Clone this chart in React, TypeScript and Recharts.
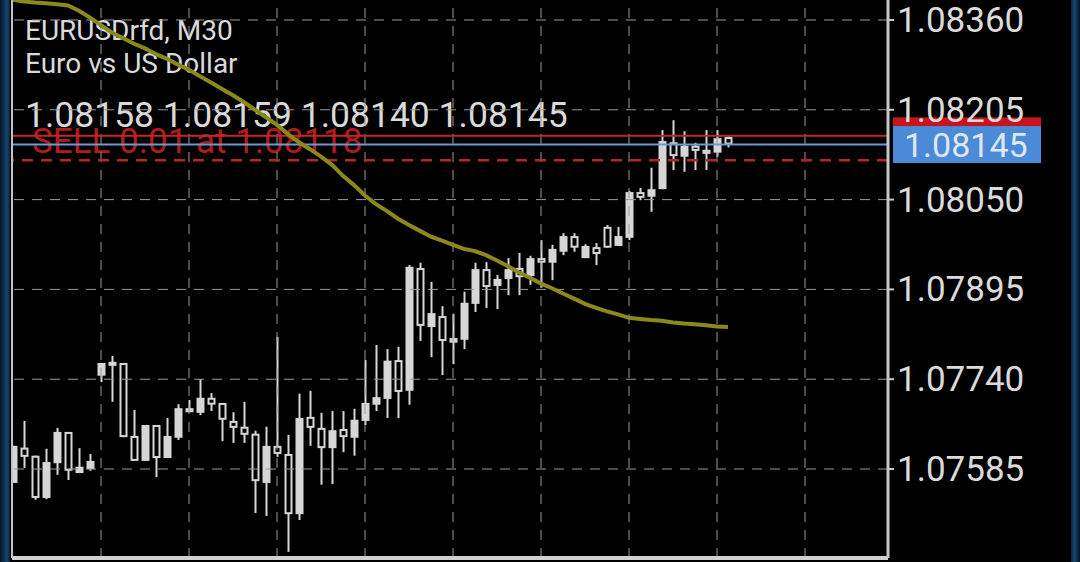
import {
  Bar,
  ComposedChart,
  Line,
  ReferenceLine,
  XAxis,
  YAxis,
} from "recharts";

const symbolTitle = "EURUSDrfd, M30";
const symbolName = "Euro vs US Dollar";
const sellLabel = "SELL 0.01 at 1.08118";

const opens = [
  1.07561, 1.07622, 1.07608, 1.07535, 1.07595, 1.07649, 1.07578, 1.07585, 1.07746, 1.07763,
  1.07768, 1.07642, 1.07599, 1.07661, 1.07604, 1.07639, 1.0769, 1.07682, 1.07708, 1.07699,
  1.07668, 1.07658, 1.07646, 1.07561, 1.07625, 1.07611, 1.07507, 1.07675, 1.07656, 1.07621,
  1.07654, 1.07639, 1.07668, 1.07696, 1.07706, 1.07773, 1.0772, 1.07932, 1.0783, 1.07849,
  1.07803, 1.07808, 1.0787, 1.0793, 1.07901, 1.07913, 1.07932, 1.07918, 1.07949, 1.07941,
  1.0796, 1.07987, 1.07949, 1.07968, 1.08003, 1.0797, 1.07984, 1.08063, 1.08055, 1.08068,
  1.08149, 1.08124, 1.08143, 1.08136, 1.08131, 1.08158,
];
const highs = [
  1.07625, 1.07668, 1.07608, 1.0762, 1.07656, 1.07649, 1.07621, 1.07611, 1.07768, 1.0778,
  1.07768, 1.07687, 1.07661, 1.07661, 1.07673, 1.07697, 1.07704, 1.0774, 1.07716, 1.07699,
  1.07683, 1.07701, 1.07651, 1.07658, 1.07813, 1.07644, 1.07715, 1.0772, 1.07682, 1.07685,
  1.07685, 1.07689, 1.07773, 1.07799, 1.07792, 1.07796, 1.07937, 1.07941, 1.07908, 1.07866,
  1.07853, 1.07891, 1.07941, 1.07942, 1.0792, 1.07949, 1.07958, 1.07953, 1.0798, 1.07972,
  1.07992, 1.07992, 1.07973, 1.07975, 1.08006, 1.08003, 1.08065, 1.0807, 1.08105, 1.0817,
  1.08187, 1.08168, 1.08148, 1.0817, 1.0817, 1.08159,
];
const lows = [
  1.07561, 1.07587, 1.07532, 1.07533, 1.07575, 1.07566, 1.07578, 1.07582, 1.07735, 1.07701,
  1.0764, 1.07599, 1.07599, 1.07571, 1.07604, 1.07635, 1.07683, 1.07678, 1.07685, 1.07633,
  1.0763, 1.0763, 1.07509, 1.07504, 1.07606, 1.07442, 1.07497, 1.07625, 1.07558, 1.07559,
  1.07614, 1.07608, 1.07661, 1.07685, 1.07673, 1.07673, 1.07696, 1.07806, 1.07778, 1.07747,
  1.07766, 1.07792, 1.07856, 1.07863, 1.07861, 1.07885, 1.07885, 1.07903, 1.07898, 1.07911,
  1.07954, 1.0796, 1.07949, 1.07937, 1.07967, 1.0797, 1.0798, 1.08049, 1.08029, 1.08068,
  1.08101, 1.08098, 1.08101, 1.08101, 1.08124, 1.0814,
];
const closes = [
  1.07625, 1.07606, 1.07535, 1.07597, 1.07649, 1.07582, 1.07589, 1.07599, 1.07768, 1.0777,
  1.0764, 1.07599, 1.07661, 1.07604, 1.07642, 1.0769, 1.07683, 1.07708, 1.07696, 1.0767,
  1.07656, 1.07644, 1.07564, 1.07625, 1.07611, 1.07507, 1.07673, 1.07656, 1.07621, 1.07652,
  1.0764, 1.0767, 1.07699, 1.07709, 1.07772, 1.07718, 1.07934, 1.07832, 1.07854, 1.07806,
  1.07811, 1.07872, 1.0793, 1.07899, 1.07913, 1.0793, 1.07916, 1.07949, 1.07941, 1.07965,
  1.07987, 1.07967, 1.0797, 1.07956, 1.07967, 1.07987, 1.08063, 1.08053, 1.08068, 1.08151,
  1.08125, 1.08143, 1.08134, 1.08129, 1.08156, 1.08145,
];
// moving average drawn in olive
const maValues = [
  1.08395, 1.08392, 1.0839, 1.08389, 1.08387, 1.08385, 1.08376, 1.08364, 1.08351, 1.08338,
  1.08329, 1.08319, 1.08311, 1.08301, 1.08293, 1.08283, 1.08274, 1.08263, 1.08252, 1.08241,
  1.0823, 1.08218, 1.08205, 1.08192, 1.08179, 1.08163, 1.08149, 1.08137, 1.08124, 1.0811,
  1.08091, 1.08075, 1.08057, 1.08042, 1.0803, 1.08017, 1.08006, 1.07996, 1.07986, 1.07979,
  1.07972, 1.07965, 1.07961, 1.07954, 1.07945, 1.07935, 1.07924, 1.07915, 1.07905, 1.07897,
  1.07888, 1.07879, 1.0787, 1.07863, 1.07857, 1.07852, 1.07846, 1.07844, 1.07842, 1.07841,
  1.07838, 1.07836, 1.07835, 1.07833, 1.07831, 1.0783,
];

const priceTicks = [1.07585, 1.0774, 1.07895, 1.0805, 1.08205, 1.0836];
const timeTicks = [8, 16, 24, 32, 40, 48, 56, 64, 72];
const bidPrice = 1.08145;
const askPrice = 1.0816;
const sellPrice = 1.08118;

const CANDLE = "#d6d6d6";
const TEXT = "#dadada";
const GRID = "#9a9a9a";
const FONT = "Roboto, 'Noto Sans', sans-serif";

const rows = opens.map((o, i) => ({
  i,
  open: o,
  high: highs[i],
  low: lows[i],
  close: closes[i],
  range: [lows[i], highs[i]],
  ma: maValues[i],
}));

function Candle(props: any) {
  const { x, y, width, height, payload } = props;
  const top = Math.min(y, y + height);
  const h = Math.abs(height);
  const { open, close, high, low } = payload;
  const py = (p: number) => top + ((high - p) / (high - low || 1)) * h;
  const cx = x + width / 2;
  const bTop = py(Math.max(open, close));
  const bBot = py(Math.min(open, close));
  const bull = close > open;
  return (
    <g>
      <line x1={cx} x2={cx} y1={top} y2={top + h} stroke={CANDLE} strokeWidth={2} />
      {bull ? (
        <rect x={x} y={bTop} width={width} height={Math.max(bBot - bTop, 2)} fill={CANDLE} />
      ) : (
        <rect
          x={x + 1}
          y={bTop + 1}
          width={width - 2}
          height={Math.max(bBot - bTop - 2, 1)}
          fill="#000"
          stroke={CANDLE}
          strokeWidth={2}
        />
      )}
    </g>
  );
}

function PriceTick({ x, y, payload }: any) {
  return (
    <text x={x} y={y} dy={12} textAnchor="start" fill={TEXT} fontSize={35} fontFamily={FONT}>
      {Number(payload.value).toFixed(5)}
    </text>
  );
}

function priceTag(color: string, showText: boolean) {
  return (p: any) => {
    const vb = p.viewBox;
    const bx = vb.x + vb.width + 5;
    return (
      <g>
        <rect x={bx} y={vb.y - 18.5} width={148} height={37} fill={color} />
        {showText && (
          <text x={bx + 11} y={vb.y + 12} fill="#dfe7f2" fontSize={34} fontFamily={FONT}>
            {bidPrice.toFixed(5)}
          </text>
        )}
      </g>
    );
  };
}

export default function App() {
  return (
    <div
      style={{
        position: "fixed",
        left: 0,
        top: 0,
        width: 1080,
        height: 562,
        background: "#000",
        overflow: "hidden",
      }}
    >
      <svg width={1080} height={562} style={{ position: "absolute", left: 0, top: 0 }}>
        <text x={25} y={40} fill={TEXT} fontSize={28} fontFamily={FONT}>
          {symbolTitle}
        </text>
        <text x={25} y={73} fill={TEXT} fontSize={28} fontFamily={FONT}>
          {symbolName}
        </text>
        <text x={25} y={127} fill={TEXT} fontSize={35.5} fontFamily={FONT}>
          {`${opens[65].toFixed(5)} ${highs[65].toFixed(5)} ${lows[65].toFixed(5)} ${closes[65].toFixed(5)}`}
        </text>
        <text x={32} y={153} fill="#b01c1c" fontSize={35} fontFamily={FONT}>
          {sellLabel}
        </text>
      </svg>
      <div style={{ position: "absolute", left: 0, top: 0 }}>
        <ComposedChart width={1080} height={562} data={rows} margin={{ top: 0, right: 0, bottom: 0, left: 0 }}>
          <XAxis
            dataKey="i"
            type="number"
            domain={[-0.0909, 79.545]}
            ticks={timeTicks}
            allowDataOverflow
            height={4}
            tick={false}
            tickLine={false}
            axisLine={{ stroke: "#d0d0d0", strokeWidth: 4 }}
          />
          <YAxis
            yAxisId="frame"
            orientation="left"
            width={12}
            domain={[0, 1]}
            tick={false}
            tickLine={false}
            axisLine={{ stroke: "#c4c4c4", strokeWidth: 2 }}
          />
          <YAxis
            yAxisId="price"
            orientation="right"
            width={192}
            domain={[1.074314, 1.083945]}
            allowDataOverflow
            ticks={priceTicks}
            tick={<PriceTick />}
            tickSize={6}
            tickMargin={3}
            tickLine={{ stroke: "#c8c8c8", strokeWidth: 2 }}
            axisLine={{ stroke: "#c8c8c8", strokeWidth: 3 }}
          />
          {priceTicks.map((t) => (
            <ReferenceLine
              key={`h${t}`}
              yAxisId="price"
              y={t}
              stroke={GRID}
              strokeWidth={1}
              strokeDasharray="10 8"
            />
          ))}
          {timeTicks.map((t) => (
            <ReferenceLine
              key={`v${t}`}
              yAxisId="price"
              x={t}
              stroke={GRID}
              strokeWidth={1}
              strokeDasharray="10 8"
            />
          ))}
          <ReferenceLine
            yAxisId="price"
            y={sellPrice}
            stroke="#b52525"
            strokeWidth={2.5}
            strokeDasharray="11 8"
          />
          <ReferenceLine
            yAxisId="price"
            y={askPrice}
            stroke="#c0282c"
            strokeWidth={2}
            label={priceTag("#c8141c", false)}
          />
          <ReferenceLine
            yAxisId="price"
            y={bidPrice}
            stroke="#6b9ad6"
            strokeWidth={2}
            label={priceTag("#4a8ad6", true)}
          />
          <Bar
            yAxisId="price"
            dataKey="range"
            barSize={8}
            shape={<Candle />}
            isAnimationActive={false}
          />
          <Line
            yAxisId="price"
            dataKey="ma"
            stroke="#8a8a1c"
            strokeWidth={4}
            dot={false}
            activeDot={false}
            isAnimationActive={false}
          />
        </ComposedChart>
      </div>
      <div
        style={{
          position: "absolute",
          left: 0,
          top: 0,
          width: 10,
          height: 562,
          background: "linear-gradient(to right, #051424, #174670 70%, #0a2238)",
        }}
      />
      <div
        style={{
          position: "absolute",
          left: 1071,
          top: 0,
          width: 9,
          height: 562,
          background: "linear-gradient(to right, #0a2238, #174670 40%, #051424)",
        }}
      />
    </div>
  );
}
